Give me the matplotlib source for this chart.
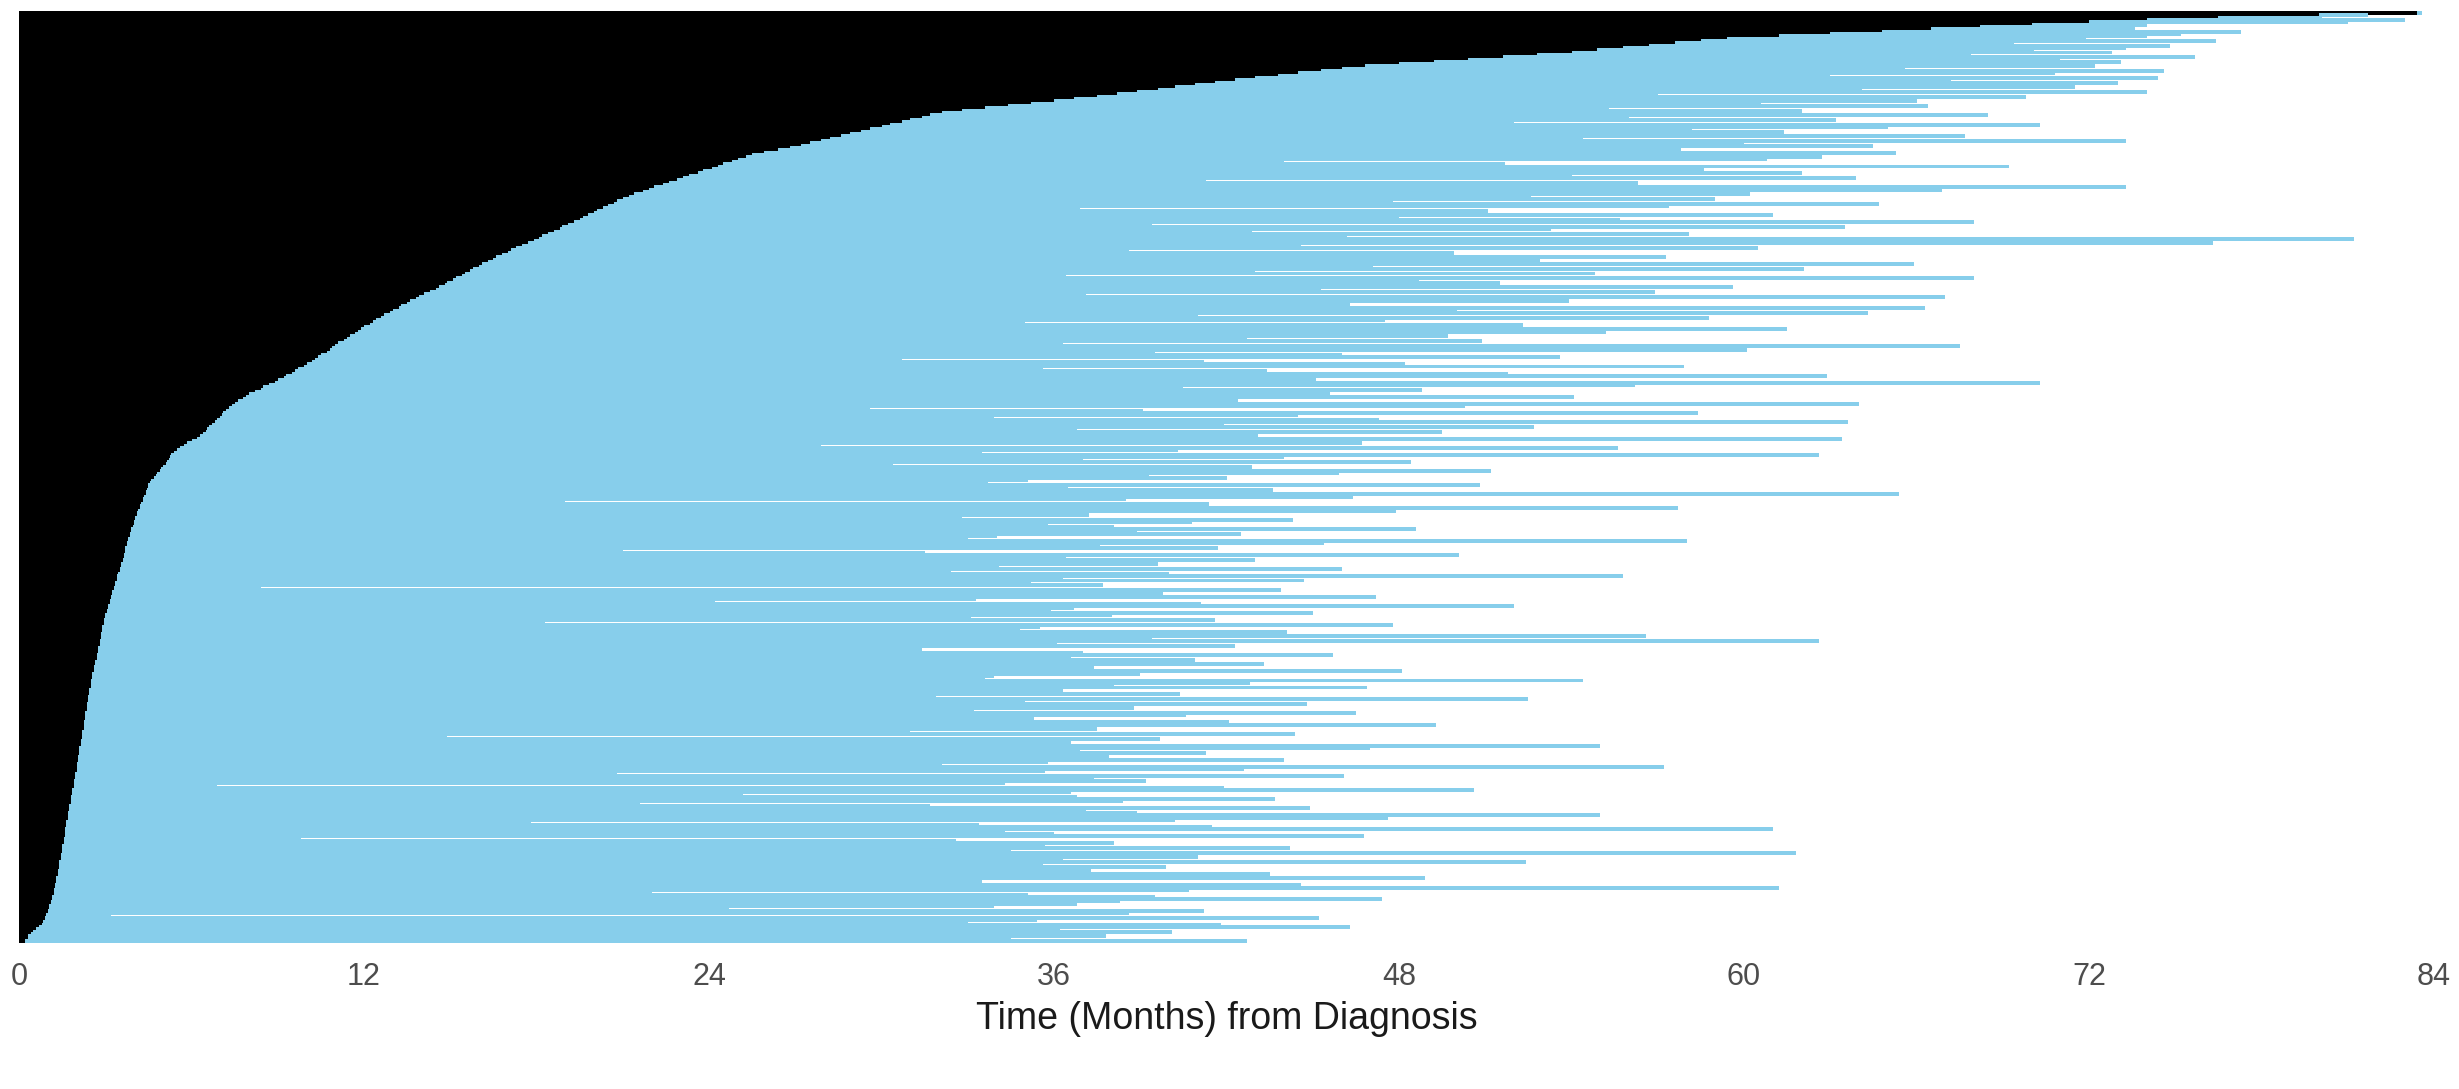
"""Swimmer-style plot: time from diagnosis to treatment start (black)
and follow-up after start (sky blue), one row per patient."""

import matplotlib.pyplot as plt
import numpy as np

# months from diagnosis to start, one value per patient (sorted, bottom row first)
start = [
    0.2, 0.3, 0.3, 0.4, 0.5, 0.6, 0.7, 0.8, 0.85, 0.9, 0.9, 0.95, 1.0, 1.0, 1.05, 1.05, 1.1, 1.1, 1.15, 1.15,
    1.2, 1.2, 1.2, 1.25, 1.25, 1.3, 1.3, 1.3, 1.35, 1.35, 1.35, 1.4, 1.4, 1.4, 1.4, 1.45, 1.45, 1.45, 1.5, 1.5,
    1.5, 1.5, 1.55, 1.55, 1.55, 1.6, 1.6, 1.6, 1.6, 1.65, 1.65, 1.65, 1.7, 1.7, 1.7, 1.7, 1.75, 1.75, 1.75, 1.8,
    1.8, 1.8, 1.8, 1.85, 1.85, 1.85, 1.9, 1.9, 1.9, 1.9, 1.95, 1.95, 1.95, 2.0, 2.0, 2.0, 2.0, 2.05, 2.05, 2.05,
    2.1, 2.1, 2.1, 2.1, 2.15, 2.15, 2.15, 2.2, 2.2, 2.2, 2.2, 2.25, 2.25, 2.25, 2.25, 2.3, 2.3, 2.3, 2.3, 2.35,
    2.35, 2.35, 2.35, 2.4, 2.4, 2.4, 2.45, 2.45, 2.45, 2.5, 2.5, 2.5, 2.5, 2.55, 2.55, 2.55, 2.6, 2.6, 2.6, 2.65,
    2.65, 2.7, 2.7, 2.7, 2.75, 2.75, 2.75, 2.8, 2.8, 2.8, 2.85, 2.85, 2.85, 2.9, 2.9, 2.9, 2.95, 2.95, 2.95, 3.0,
    3.0, 3.05, 3.05, 3.1, 3.1, 3.15, 3.15, 3.2, 3.2, 3.25, 3.25, 3.3, 3.3, 3.35, 3.35, 3.4, 3.4, 3.4, 3.45, 3.5,
    3.5, 3.55, 3.55, 3.6, 3.6, 3.65, 3.65, 3.7, 3.7, 3.7, 3.75, 3.75, 3.8, 3.8, 3.85, 3.85, 3.9, 3.9, 3.95, 4.0,
    4.0, 4.05, 4.05, 4.1, 4.1, 4.15, 4.2, 4.2, 4.25, 4.3, 4.3, 4.35, 4.4, 4.4, 4.45, 4.5, 4.5, 4.55, 4.6, 4.7,
    4.75, 4.8, 4.9, 4.95, 5.0, 5.1, 5.15, 5.2, 5.25, 5.3, 5.4, 5.5, 5.6, 5.75, 5.85, 6.0, 6.2, 6.3, 6.4, 6.5,
    6.55, 6.6, 6.7, 6.8, 6.9, 7.0, 7.05, 7.1, 7.2, 7.3, 7.4, 7.5, 7.6, 7.8, 7.9, 8.0, 8.2, 8.4, 8.5, 8.7,
    8.9, 9.0, 9.2, 9.3, 9.5, 9.6, 9.7, 9.9, 10.0, 10.2, 10.3, 10.4, 10.5, 10.7, 10.8, 10.9, 11.0, 11.1, 11.3, 11.4,
    11.5, 11.7, 11.8, 11.9, 12.0, 12.2, 12.3, 12.4, 12.6, 12.7, 12.9, 13.0, 13.2, 13.3, 13.5, 13.6, 13.8, 13.9, 14.1, 14.3,
    14.5, 14.6, 14.8, 14.9, 15.1, 15.2, 15.4, 15.5, 15.7, 15.8, 16.0, 16.1, 16.3, 16.5, 16.6, 16.8, 17.0, 17.1, 17.3, 17.5,
    17.7, 17.9, 18.1, 18.2, 18.4, 18.6, 18.8, 18.9, 19.1, 19.3, 19.5, 19.6, 19.8, 20.0, 20.1, 20.3, 20.5, 20.7, 20.8, 21.0,
    21.2, 21.4, 21.7, 21.9, 22.1, 22.4, 22.6, 22.9, 23.1, 23.3, 23.6, 23.8, 24.1, 24.3, 24.5, 24.8, 25.0, 25.3, 25.5, 25.9,
    26.4, 26.8, 27.2, 27.5, 27.9, 28.2, 28.6, 28.9, 29.3, 29.6, 30.0, 30.3, 30.7, 31.0, 31.4, 31.7, 32.1, 32.8, 33.6, 34.4,
    35.2, 36.0, 36.7, 37.5, 38.2, 38.9, 39.6, 40.2, 40.9, 41.6, 42.3, 43.0, 43.8, 44.5, 45.3, 46.0, 46.8, 48.0, 49.2, 50.4,
    51.6, 52.8, 54.0, 54.9, 55.8, 56.7, 57.6, 58.5, 59.4, 61.2, 63.0, 64.8, 66.5, 68.2, 70.0, 72.0, 74.0, 76.5, 80.0, 83.4,
]

# months from diagnosis to end of follow-up, same order as start
end = [
    42.7, 34.5, 37.8, 12.5, 40.1, 36.2, 46.3, 41.8, 33.0, 35.4, 45.2, 3.2, 38.6, 41.2, 24.7, 33.9, 36.8, 38.3, 47.4, 39.5,
    35.1, 22.0, 40.7, 61.2, 44.6, 31.2, 33.5, 48.9, 20.4, 43.5, 37.3, 12.1, 39.9, 35.6, 52.4, 36.3, 41.0, 24.4, 61.8, 34.5,
    44.2, 35.7, 38.1, 32.6, 9.8, 46.8, 36.0, 34.3, 61.0, 41.5, 33.4, 17.8, 40.2, 47.6, 55.0, 38.9, 37.1, 44.9, 31.7, 21.6,
    38.4, 43.7, 36.8, 25.2, 36.6, 50.6, 41.9, 6.9, 34.3, 39.2, 37.4, 46.1, 20.8, 35.7, 42.6, 57.2, 32.1, 35.8, 44.0, 37.9,
    34.2, 41.3, 36.9, 47.0, 55.0, 36.6, 33.8, 39.7, 14.9, 44.4, 31.0, 37.5, 37.1, 49.3, 42.1, 22.7, 35.3, 40.6, 46.5, 33.2,
    38.8, 35.0, 44.8, 35.0, 52.5, 31.9, 40.4, 19.6, 36.3, 46.9, 38.1, 42.8, 54.4, 33.6, 33.9, 39.0, 48.1, 11.2, 37.4, 43.3,
    34.7, 40.9, 36.6, 45.7, 37.0, 31.4, 23.9, 42.3, 36.1, 62.6, 39.4, 56.6, 38.0, 44.1, 34.8, 35.5, 47.8, 18.3, 41.6, 33.1,
    38.0, 45.0, 35.9, 36.7, 52.0, 41.1, 24.2, 33.3, 47.2, 39.8, 39.6, 43.9, 8.4, 37.7, 35.2, 44.7, 36.3, 55.8, 40.0, 32.4,
    46.0, 34.1, 39.6, 37.2, 43.0, 36.4, 50.1, 31.5, 21.0, 41.7, 37.6, 45.4, 58.0, 33.0, 34.0, 42.5, 38.9, 48.6, 38.1, 35.8,
    40.8, 44.3, 32.8, 37.2, 36.7, 47.9, 57.7, 35.4, 41.4, 19.0, 38.5, 46.4, 65.4, 39.9, 43.6, 36.5, 50.8, 33.7, 35.1, 42.0,
    39.3, 45.9, 51.2, 35.9, 42.9, 30.4, 48.4, 37.0, 44.0, 62.6, 33.5, 40.3, 55.6, 27.9, 46.7, 38.2, 63.4, 43.1, 14.0, 49.5,
    36.8, 52.7, 41.9, 63.6, 47.3, 33.9, 44.5, 58.4, 39.1, 29.6, 50.3, 64.0, 42.4, 37.8, 54.1, 45.6, 24.0, 48.8, 40.5, 56.2,
    70.3, 45.1, 38.7, 62.9, 51.8, 43.4, 35.6, 57.9, 48.2, 41.2, 30.7, 53.6, 46.0, 39.5, 60.1, 44.8, 67.5, 36.3, 50.9, 42.7,
    49.7, 38.4, 55.2, 61.5, 44.2, 52.3, 35.0, 47.5, 58.8, 41.0, 64.3, 50.0, 66.3, 39.8, 46.3, 53.9, 43.6, 67.0, 37.1, 56.9,
    45.3, 59.6, 40.1, 51.5, 48.7, 68.0, 36.4, 54.8, 43.0, 62.1, 47.1, 65.9, 30.2, 52.9, 57.3, 41.8, 49.9, 38.6, 60.5, 44.6,
    76.3, 50.4, 81.2, 46.2, 58.1, 42.9, 53.3, 63.5, 39.4, 68.0, 55.7, 48.0, 61.0, 44.4, 51.1, 36.9, 57.4, 64.7, 47.8, 59.0,
    52.6, 60.2, 45.5, 66.9, 73.3, 49.0, 56.3, 41.3, 63.9, 54.0, 62.0, 47.4, 58.6, 69.2, 51.7, 44.0, 60.8, 62.7, 55.1, 65.3,
    57.8, 50.7, 64.5, 60.0, 73.3, 54.4, 67.7, 48.5, 61.4, 58.2, 65.0, 70.3, 52.0, 63.2, 56.0, 68.5, 59.3, 62.0, 55.3, 66.4,
    60.6, 66.0, 62.0, 69.8, 57.0, 74.0, 64.1, 71.5, 59.8, 73.0, 67.2, 74.4, 63.0, 70.8, 74.6, 65.6, 72.2, 68.9, 73.1, 71.0,
    75.7, 67.9, 72.8, 70.1, 73.3, 74.8, 69.4, 76.4, 71.9, 74.0, 75.2, 77.3, 73.6, 72.5, 74.0, 81.0, 83.0, 80.1, 81.7, 83.6,
]

month_ticks = [0, 12, 24, 36, 48, 60, 72, 84]

plt.rcParams['font.family'] = ['Liberation Sans', 'DejaVu Sans']

rows = np.arange(len(start))
start = np.array(start)
end = np.array(end)

# figure is 2459 x 1089 px, panel placed to match the reference
fig = plt.figure(figsize=(24.59, 10.89), dpi=100)
ax = fig.add_axes([19 / 2459, 146 / 1089, 2415 / 2459, 932 / 1089])

# bars overlap slightly, like thick segments
bar_h = 1.7
ax.barh(rows, start, height=bar_h, color='black', linewidth=0)
ax.barh(rows, end - start, left=start, height=bar_h, color='#87CEEB', linewidth=0)

ax.set_xlim(0, 84)
ax.set_ylim(-bar_h / 2, len(rows) - 1 + bar_h / 2)

# axis styling: only x tick labels and title
ax.set_xticks(month_ticks)
ax.set_yticks([])
ax.tick_params(axis='x', length=0, pad=14, labelsize=22, labelcolor='#4D4D4D')
for side in ['top', 'right', 'bottom', 'left']:
    ax.spines[side].set_visible(False)
ax.set_xlabel('Time (Months) from Diagnosis', fontsize=27, labelpad=6, color='#1A1A1A')

fig.savefig('out.png', dpi=100)
